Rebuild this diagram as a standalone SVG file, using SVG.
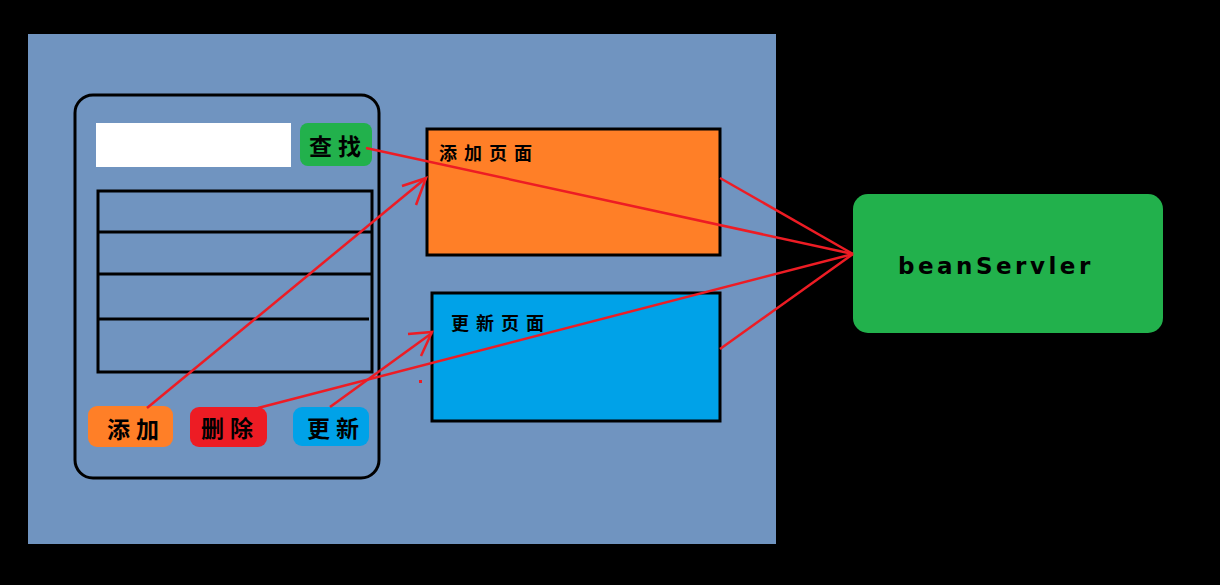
<svg xmlns="http://www.w3.org/2000/svg" width="1220" height="585" viewBox="0 0 1220 585">
<style>
.cjk{font-family:"Noto Sans CJK SC","Noto Sans",sans-serif;fill:#000;font-weight:bold}
.btn{font-size:23px;letter-spacing:6px}
.pg{font-size:18px;letter-spacing:7px}
.box{stroke:#000;stroke-width:3}
.ln{stroke:#ed1c24;stroke-width:2.5;fill:none}
</style>
<rect width="1220" height="585" fill="#000"/>
<rect x="28" y="34" width="748" height="510" fill="#7094c0"/>
<g id="panel">
<rect x="75" y="95" width="304" height="383" rx="18" fill="none" stroke="#000" stroke-width="3"/>
</g>
<g id="search-input"><rect x="96" y="123" width="195" height="44" fill="#fff"/></g>
<g id="btn-search"><rect x="300" y="123" width="72" height="43" rx="8" fill="#22b14c"/><text class="cjk btn" x="309" y="155">查找</text></g>
<g id="table">
<rect x="98" y="191" width="274" height="181" fill="none" class="box"/>
<line x1="98" y1="232" x2="372" y2="232" class="box"/>
<line x1="98" y1="274" x2="372" y2="274" class="box"/>
<line x1="98" y1="319" x2="369" y2="319" class="box"/>
</g>
<g id="btn-add"><rect x="88" y="406" width="85" height="41" rx="9" fill="#ff7f27"/><text class="cjk btn" x="107" y="438">添加</text></g>
<g id="btn-del"><rect x="190" y="407" width="77" height="40" rx="9" fill="#ed1c24"/><text class="cjk btn" x="201" y="437">删除</text></g>
<g id="btn-upd"><rect x="293" y="407" width="76" height="39" rx="9" fill="#00a2e8"/><text class="cjk btn" x="307" y="437">更新</text></g>
<g id="add-page"><rect x="427" y="129" width="293" height="126" fill="#ff7f27" class="box"/><text class="cjk pg" x="439" y="160">添加页面</text></g>
<g id="upd-page"><rect x="432" y="293" width="288" height="128" fill="#00a2e8" class="box"/><text class="cjk pg" x="451" y="330">更新页面</text></g>
<g id="bean"><rect x="853" y="194" width="310" height="139" rx="15" fill="#22b14c"/><text x="898" y="274" font-family="DejaVu Sans,sans-serif" font-size="23" font-weight="bold" letter-spacing="3.5" fill="#000">beanServler</text></g>
<g id="connectors">
<line x1="366" y1="148" x2="853" y2="254" class="ln"/>
<line x1="147" y1="408" x2="426" y2="178" class="ln"/>
<polyline points="402,186 426,178 416,205" class="ln"/>
<line x1="258" y1="408" x2="853" y2="254" class="ln"/>
<line x1="330" y1="407" x2="432" y2="333" class="ln"/>
<polyline points="408,334 432,332 421,356" class="ln"/>
<line x1="720" y1="178" x2="853" y2="254" class="ln"/>
<line x1="720" y1="349" x2="853" y2="254" class="ln"/>
<rect x="419" y="380" width="3" height="3" fill="#ed1c24"/>
</g>
</svg>
